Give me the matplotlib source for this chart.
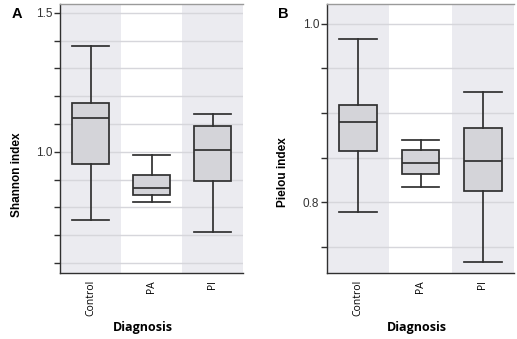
import matplotlib
matplotlib.use("Agg")
import matplotlib.pyplot as plt
import numpy as np

categories = ["Control", "PA", "PI"]

# Shannon index (panel A): whisker low, Q1, median, Q3, whisker high
shannon_lo = [0.754, 0.821, 0.713]
shannon_q1 = [0.957, 0.843, 0.896]
shannon_med = [1.122, 0.869, 1.006]
shannon_q3 = [1.175, 0.917, 1.092]
shannon_hi = [1.382, 0.987, 1.137]

# Pielou index (panel B)
pielou_lo = [0.789, 0.817, 0.733]
pielou_q1 = [0.857, 0.832, 0.813]
pielou_med = [0.890, 0.844, 0.846]
pielou_q3 = [0.909, 0.859, 0.883]
pielou_hi = [0.983, 0.870, 0.923]

BAND = "#ebebf0"
BOX = "#d4d4d9"
EDGE = "#303030"
GRID = "#d6d6db"

plt.rcParams['font.family'] = ['Liberation Sans', 'DejaVu Sans']

fig = plt.figure(figsize=(5.17, 3.39), dpi=100)
W, H = 517, 339


def add_ax(left, right, top, bottom):
    return fig.add_axes([left / W, 1 - bottom / H, (right - left) / W, (bottom - top) / H])


def draw_panel(ax, lo, q1, med, q3, hi, ylim, ticks, labeled):
    stats = []
    for i in range(len(categories)):
        stats.append(dict(whislo=lo[i], q1=q1[i], med=med[i], q3=q3[i],
                          whishi=hi[i], fliers=[], label=categories[i]))
    for i in (0, 2):
        ax.axvspan(i - 0.5, i + 0.5, color=BAND, zorder=0, lw=0)
    for t in ticks:
        ax.axhline(t, color=GRID, lw=1.0, zorder=1)
    ax.bxp(stats, positions=range(len(categories)), widths=0.6, patch_artist=True,
           showfliers=False,
           boxprops=dict(facecolor=BOX, edgecolor=EDGE, lw=1.25),
           medianprops=dict(color=EDGE, lw=1.25),
           whiskerprops=dict(color=EDGE, lw=1.25),
           capprops=dict(color=EDGE, lw=1.25),
           capwidths=0.6, zorder=3)
    ax.set_xlim(-0.5, 2.5)
    ax.set_ylim(*ylim)
    ax.set_yticks(ticks)
    ax.set_yticklabels([f"{t:.1f}" if any(abs(t - l) < 1e-9 for l in labeled) else "" for t in ticks],
                       fontsize=8.5, color="#333333")
    ax.set_xticks(range(len(categories)))
    ax.set_xticklabels(categories, rotation=90, fontsize=7.5, family=['Open Sans', 'DejaVu Sans'])
    ax.tick_params(axis='y', length=4, width=1, color=EDGE, pad=1.5)
    ax.tick_params(axis='x', length=0, pad=5)
    ax.set_facecolor("white")
    ax.spines['right'].set_visible(False)
    ax.spines['top'].set_color("#9a9a9a")
    ax.spines['left'].set_color(EDGE)
    ax.spines['bottom'].set_color(EDGE)
    for s in ('left', 'bottom', 'top'):
        ax.spines[s].set_linewidth(1.0)


axA = add_ax(60, 243, 4, 273)
draw_panel(axA, shannon_lo, shannon_q1, shannon_med, shannon_q3, shannon_hi,
           (0.564, 1.532), np.round(np.arange(0.6, 1.51, 0.1), 2), [1.0, 1.5])

axB = add_ax(327, 514, 4, 273)
draw_panel(axB, pielou_lo, pielou_q1, pielou_med, pielou_q3, pielou_hi,
           (0.721, 1.022), np.round(np.arange(0.75, 1.001, 0.05), 2), [0.8, 1.0])

fig.text(12 / W, 1 - 14 / H, "A", fontsize=10.5, fontweight='bold', ha='left', va='center')
fig.text(278 / W, 1 - 14 / H, "B", fontsize=10.5, fontweight='bold', ha='left', va='center')

fig.text(17 / W, 1 - 175 / H, "Shannon index", rotation=90, fontsize=8.5, fontweight='bold',
         ha='center', va='center')
fig.text(283 / W, 1 - 172 / H, "Pielou index", rotation=90, fontsize=8.5, fontweight='bold',
         ha='center', va='center')

fig.text(143 / W, 1 - 328 / H, "Diagnosis", fontsize=9, fontweight='bold', ha='center', va='center',
         family=['Open Sans', 'DejaVu Sans'])
fig.text(417 / W, 1 - 328 / H, "Diagnosis", fontsize=9, fontweight='bold', ha='center', va='center',
         family=['Open Sans', 'DejaVu Sans'])

fig.savefig("out.png", dpi=100)
